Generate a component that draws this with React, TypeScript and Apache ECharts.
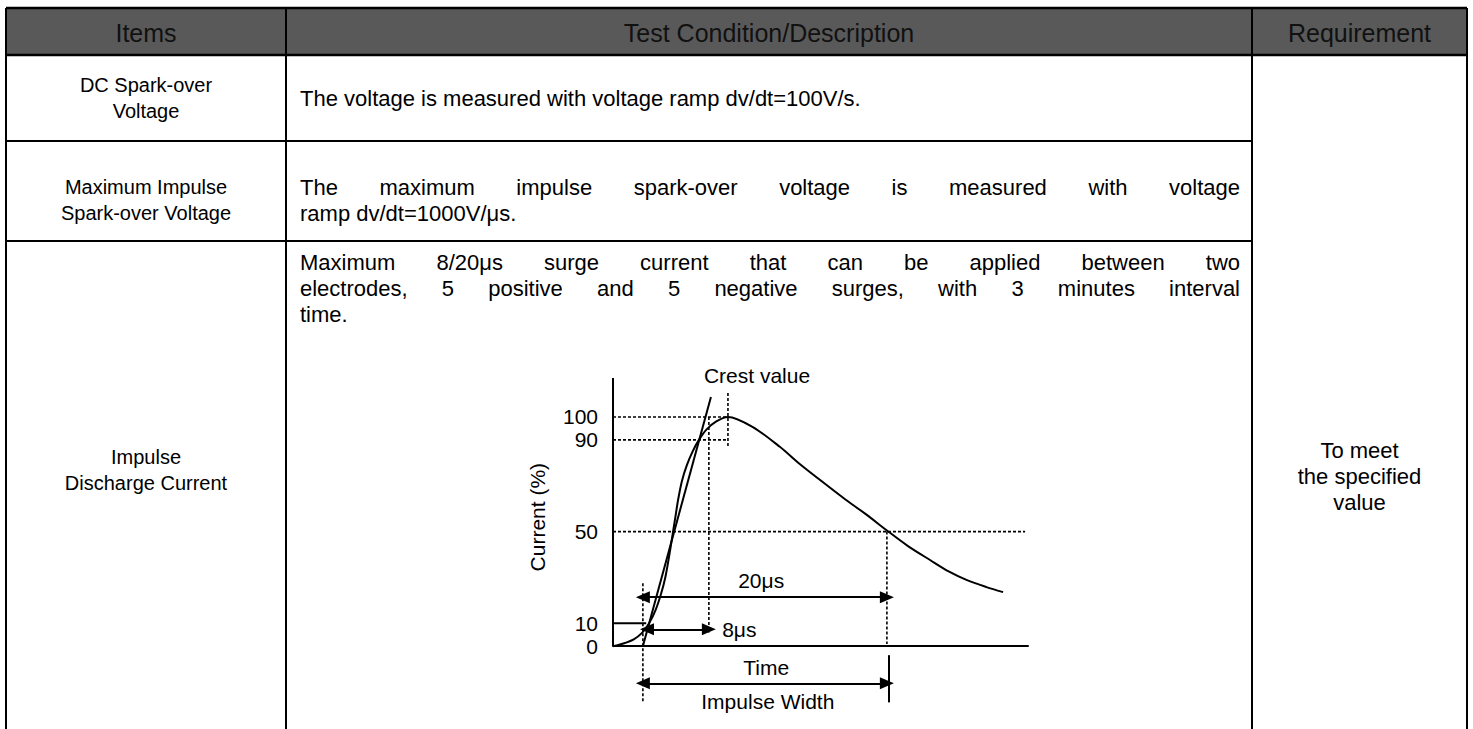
import React, { useEffect, useRef } from "react";
import * as echarts from "echarts";

const W = 1473;
const H = 729;
const FONT = "'Liberation Sans', Arial, sans-serif";

// ---------- table content ----------
const headers = ["Items", "Test Condition/Description", "Requirement"];
const itemLines = [
  ["DC Spark-over", "Voltage"],
  ["Maximum Impulse", "Spark-over Voltage"],
  ["Impulse", "Discharge Current"],
];
const descLines = [
  ["The voltage is measured with voltage ramp dv/dt=100V/s."],
  ["The maximum impulse spark-over voltage is measured with voltage", "ramp dv/dt=1000V/μs."],
  [
    "Maximum 8/20μs surge current that can be applied between two",
    "electrodes, 5 positive and 5 negative surges, with 3 minutes interval",
    "time.",
  ],
];
const requirementLines = ["To meet", "the specified", "value"];

// ---------- impulse waveform (schematic time units, current %) ----------
const waveTime = [0, 2.5, 5, 7, 8.7, 10.3, 11.6, 12.6, 13.5, 14.3, 15.0, 15.7, 16.6, 17.8, 19.2, 20.7, 22.5, 24.8, 27.7, 33.7, 40.2, 45, 49.9, 56, 61, 66, 71, 76.4, 81, 85.3, 90, 94];
const waveCurrent = [0, 1.2, 3, 5.8, 10, 16, 23, 30, 39, 48, 56, 64, 72, 79, 85, 90, 94.5, 98, 100, 95.6, 87, 79.5, 72.5, 64, 57.5, 50.5, 43.8, 37.6, 32.5, 28.8, 25.8, 23.6];
const tangentTime = [7.2, 23.6];
const tangentCurrent = [0, 108.7];
const yTickValues = [0, 10, 50, 90, 100];

// dotted guide segments [x1, y1, x2, y2]
const dottedGuides = [
  [0, 100, 27.7, 100],
  [0, 90, 27.7, 90],
  [27.7, 110.5, 27.7, 86.9],
  [23.1, 100, 23.1, 6],
  [0, 50, 99.3, 50],
  [66, 50, 66, 1],
  [7.2, 27.5, 7.2, -24.9],
];
const solidGuides = [
  [0, 10, 8, 10],
  [66.5, -3.9, 66.5, -24.5],
  [0, 0, 0, 117],
];
// double arrows [from, to, level]
const arrowSpans = [
  [7.2, 66, 21.4],
  [8.2, 23.1, 7.4],
  [7.2, 66, -16.2],
];
// in-chart annotations [x, y, text, align, rotate]
const annotations: [number, number, string, string, number][] = [
  [34.7, 118.3, "Crest value", "center", 0],
  [35.7, 28.8, "20μs", "center", 0],
  [26.3, 7.4, "8μs", "left", 0],
  [36.9, -9.2, "Time", "center", 0],
  [37.3, -24, "Impulse Width", "center", 0],
  [-18.1, 56.3, "Current (%)", "center", 90],
];

// ---------- layout ----------
const colX = [6, 286, 1252, 1467];
const rowY = [8, 55, 141, 241];
const HEAD = 25;
const ITEM = 20;
const DESC = 22;
const REQ = 22;
const CHART = 21;
const LH = 26;

let ctx: CanvasRenderingContext2D | null = null;
function measure(t: string, size: number) {
  if (!ctx) ctx = document.createElement("canvas").getContext("2d");
  ctx!.font = `${size}px ${FONT}`;
  return ctx!.measureText(t).width;
}

function txt(text: string, x: number, y: number, align = "center", size = DESC, fill = "#000") {
  return {
    type: "text",
    x,
    y,
    silent: true,
    style: { text, fill, font: `${size}px ${FONT}`, textAlign: align, textVerticalAlign: "middle" },
  };
}

function justified(text: string, x0: number, x1: number, y: number) {
  const words = text.split(" ");
  const ws = words.map((w) => measure(w, DESC));
  const total = ws.reduce((a, b) => a + b, 0);
  const gap = (x1 - x0 - total) / (words.length - 1);
  let x = x0;
  return words.map((w, i) => {
    const el = txt(w, x, y, "left", DESC);
    x += ws[i] + gap;
    return el;
  });
}

function line(x1: number, y1: number, x2: number, y2: number, w = 2) {
  return { type: "line", silent: true, shape: { x1, y1, x2, y2 }, style: { stroke: "#000", lineWidth: w } };
}

function buildGraphics() {
  const g: any[] = [];
  g.push({ type: "rect", silent: true, shape: { x: colX[0], y: rowY[0], width: colX[3] - colX[0], height: rowY[1] - rowY[0] }, style: { fill: "#595959" } });
  g.push(line(colX[0], rowY[0], colX[3], rowY[0], 2.5));
  g.push(line(colX[0], rowY[1], colX[3], rowY[1], 2.5));
  g.push(line(colX[0], rowY[2], colX[2], rowY[2]));
  g.push(line(colX[0], rowY[3], colX[2], rowY[3]));
  colX.forEach((x) => g.push(line(x, rowY[0], x, H + 5)));

  const hy = (rowY[0] + rowY[1]) / 2 + 1;
  for (let i = 0; i < 3; i++) g.push(txt(headers[i], (colX[i] + colX[i + 1]) / 2, hy, "center", HEAD, "#111"));

  const itemCenters = [98, 200, 470];
  itemLines.forEach((lines, r) => {
    const c = itemCenters[r];
    lines.forEach((l, k) => g.push(txt(l, (colX[0] + colX[1]) / 2, c + (k - (lines.length - 1) / 2) * LH, "center", ITEM)));
  });

  const descTop = [98, 187, 262];
  descLines.forEach((lines, r) => {
    lines.forEach((l, k) => {
      const y = descTop[r] + k * LH;
      if (k < lines.length - 1) g.push(...justified(l, 300, 1240, y));
      else g.push(txt(l, 300, y, "left", DESC));
    });
  });

  requirementLines.forEach((l, k) => g.push(txt(l, (colX[2] + colX[3]) / 2, 476 + (k - 1) * LH, "center", REQ)));
  return g;
}

function seg(s: number[], dotted: boolean) {
  return {
    type: "line",
    silent: true,
    symbol: "none",
    clip: false,
    data: [
      [s[0], s[1]],
      [s[2], s[3]],
    ],
    lineStyle: { color: "#000", width: dotted ? 1.6 : 2, type: dotted ? [3, 2] : "solid" },
  };
}

function buildOption() {
  const series: any[] = [];
  series.push({
    type: "line",
    name: "Impulse current",
    silent: true,
    symbol: "none",
    smooth: 0.3,
    clip: false,
    data: waveTime.map((t, i) => [t, waveCurrent[i]]),
    lineStyle: { color: "#000", width: 2 },
  });
  series.push({
    type: "line",
    name: "Front tangent",
    silent: true,
    symbol: "none",
    clip: false,
    data: tangentTime.map((t, i) => [t, tangentCurrent[i]]),
    lineStyle: { color: "#000", width: 2 },
  });
  dottedGuides.forEach((s) => series.push(seg(s, true)));
  solidGuides.forEach((s) => series.push(seg(s, false)));
  series.push({
    type: "line",
    silent: true,
    symbol: "none",
    data: [],
    markLine: {
      silent: true,
      symbol: ["triangle", "triangle"],
      symbolSize: [12, 14],
      label: { show: false },
      lineStyle: { color: "#000", type: "solid", width: 2 },
      data: arrowSpans.map((a) => [{ coord: [a[0], a[2]] }, { coord: [a[1], a[2]] }]),
    },
  });
  series.push({
    type: "scatter",
    silent: true,
    symbolSize: 0,
    clip: false,
    itemStyle: { color: "#000", opacity: 1 },
    data: annotations.map((a) => ({
      value: [a[0], a[1]],
      label: {
        show: true,
        position: "inside",
        formatter: a[2],
        align: a[3],
        verticalAlign: "middle",
        rotate: a[4],
        color: "#000",
        opacity: 1,
        textBorderWidth: 0,
        fontFamily: FONT,
        fontSize: CHART,
      },
    })),
  });

  return {
    animation: false,
    backgroundColor: "#fff",
    graphic: buildGraphics(),
    grid: { left: 613, top: 378, width: 415, height: 337 },
    xAxis: {
      type: "value",
      min: 0,
      max: 100,
      axisLine: { show: true, onZero: true, lineStyle: { color: "#000", width: 2 } },
      axisTick: { show: false },
      axisLabel: { show: false },
      splitLine: { show: false },
    },
    yAxis: {
      type: "value",
      min: -30,
      max: 117,
      interval: 10,
      axisLine: { show: false },
      axisTick: { show: false },
      splitLine: { show: false },
      axisLabel: {
        margin: 15,
        color: "#000",
        fontFamily: FONT,
        fontSize: CHART,
        showMaxLabel: false,
        formatter: (v: number) => (yTickValues.includes(v) ? String(v) : ""),
      },
    },
    series,
  };
}

export default function App() {
  const ref = useRef<HTMLDivElement>(null);
  useEffect(() => {
    const chart = echarts.init(ref.current!, null, { renderer: "svg", width: W, height: H });
    chart.setOption(buildOption() as any);
    return () => chart.dispose();
  }, []);
  return <div ref={ref} style={{ position: "fixed", left: 0, top: 0, width: W, height: H, background: "#fff" }} />;
}
